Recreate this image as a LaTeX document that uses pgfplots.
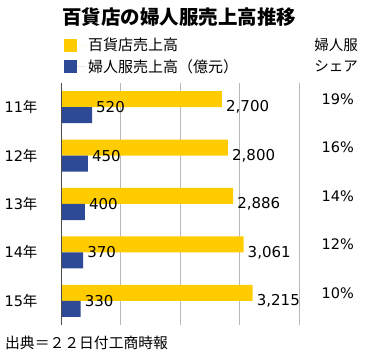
\documentclass[border=0pt]{standalone}
\usepackage{fontspec}
\setmainfont{Noto Sans CJK JP}
\newfontfamily\numfont{DejaVu Sans}
\usepackage{pgfplots}
\pgfplotsset{compat=1.18}
\definecolor{ycol}{RGB}{255,204,0}
\definecolor{bcol}{RGB}{46,74,150}
\begin{document}
\begin{tikzpicture}
\path[use as bounding box] (0bp,0bp) rectangle (366bp,355bp);
\begin{axis}[
  at={(61bp,30bp)}, anchor=south west,
  scale only axis, width=238.5bp, height=242bp,
  xmin=0, xmax=4000, ymin=0.5, ymax=5.5,
  axis line style={draw=none},
  xtick={1000,2000,3000,4000}, xticklabels={},
  xmajorgrids, major grid style={color=black!28, line width=0.8bp},
  major tick length=0pt,
  ytick={1,2,3,4,5}, yticklabels={{\numfont 15}年,{\numfont 14}年,{\numfont 13}年,{\numfont 12}年,{\numfont 11}年},
  yticklabel style={font=\fontsize{14.5bp}{16bp}\selectfont, xshift=-20bp},
  bar width=16bp,
  clip=false,
  /pgf/number format/assume math mode=true,
  /pgf/number format/1000 sep={,},
  legend style={at={(axis description cs:0.012,1.194)}, anchor=north west,
    draw=none, fill=none, inner sep=0pt, row sep=3bp,
    font=\fontsize{15bp}{17bp}\selectfont,
    nodes={inner sep=2bp, anchor=west}},
  legend cell align=left,
  legend image code/.code={\fill[#1,draw=none] (0bp,-6.5bp) rectangle (13bp,6.5bp); \path (0bp,0bp) -- (22bp,0bp);},
]
\addplot[xbar, fill=ycol, draw=none, bar shift=8bp,
  nodes near coords, nodes near coords style={font=\fontsize{15bp}{17bp}\numfont, text=black, inner sep=4bp}]
  coordinates {(2700,5) (2800,4) (2886,3) (3061,2) (3215,1)};
\addlegendentry{百貨店売上高}
\addplot[xbar, fill=bcol, draw=none, bar shift=-8bp,
  nodes near coords, nodes near coords style={font=\fontsize{15bp}{17bp}\numfont, text=black, inner sep=4bp}]
  coordinates {(520,5) (450,4) (400,3) (370,2) (330,1)};
\addlegendentry{婦人服売上高（億元）}
\addplot[draw=none, mark=none, forget plot, point meta=explicit symbolic,
  nodes near coords, nodes near coords style={anchor=east, yshift=8bp, inner sep=0pt, font=\fontsize{14.5bp}{16bp}\numfont, text=black}]
  coordinates {(4914,5) [19\%] (4914,4) [16\%] (4914,3) [14\%] (4914,2) [12\%] (4914,1) [10\%]};
\draw[black!70, line width=0.9bp] (axis cs:0,0.5) -- (axis cs:0,5.5);
\end{axis}
\node[anchor=west, inner sep=0pt, font=\fontsize{19.5bp}{22bp}\selectfont\bfseries] at (62bp,338bp) {百貨店の婦人服売上高推移};
\node[anchor=east, inner sep=0pt, font=\fontsize{14.5bp}{16bp}\selectfont] at (358bp,310bp) {婦人服};
\node[anchor=east, inner sep=0pt, font=\fontsize{14.5bp}{16bp}\selectfont] at (358bp,289bp) {シェア};
\node[anchor=west, inner sep=0pt, font=\fontsize{14.8bp}{16bp}\selectfont] at (5bp,12bp) {出典＝２２日付工商時報};
\end{tikzpicture}
\end{document}
